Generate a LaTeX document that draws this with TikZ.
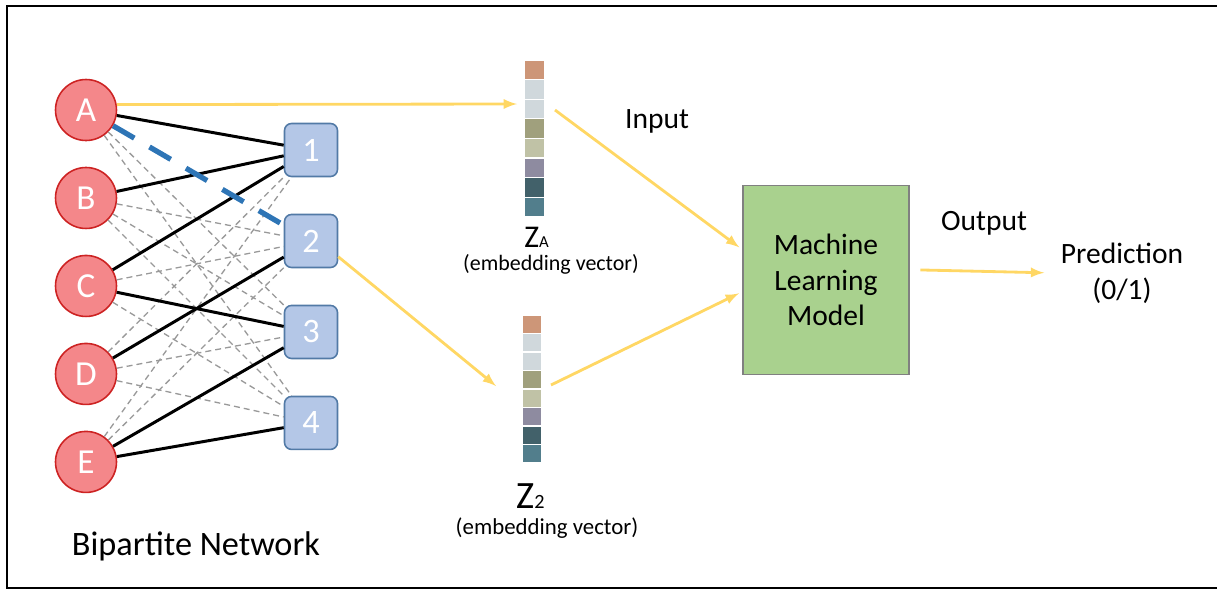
\documentclass[tikz,border=0pt]{standalone}
\usepackage{fontspec}
\setmainfont{Carlito}
\tikzset{>=latex}
\usetikzlibrary{positioning}

\definecolor{nodered}{RGB}{244,135,138}
\definecolor{borderred}{RGB}{205,35,35}
\definecolor{nodeblue}{RGB}{180,199,231}
\definecolor{borderblue}{RGB}{82,122,166}
\definecolor{linkblue}{RGB}{46,117,182}
\definecolor{arrowyellow}{RGB}{255,215,100}
\definecolor{mlgreen}{RGB}{169,209,142}
\definecolor{emba}{RGB}{205,150,120}
\definecolor{embb}{RGB}{208,216,220}
\definecolor{embc}{RGB}{160,160,125}
\definecolor{embd}{RGB}{192,194,166}
\definecolor{embe}{RGB}{142,139,160}
\definecolor{embf}{RGB}{66,97,106}
\definecolor{embg}{RGB}{82,126,140}

\tikzset{
  circnode/.style={draw=borderred, line width=0.9pt, circle, fill=nodered, minimum size=1.22cm, inner sep=0pt, text=white, font=\fontsize{20}{22}\selectfont},
  sqnode/.style={draw=borderblue, line width=0.9pt, rounded corners=4pt, fill=nodeblue, minimum size=1.06cm, inner sep=0pt, text=white, font=\fontsize{19.5}{22}\selectfont},
  edgesolid/.style={black, line width=1.7pt},
  edgegray/.style={gray!80, line width=0.75pt, dash pattern=on 3.4pt off 2.3pt},
  edgeblue/.style={linkblue, line width=3pt, dash pattern=on 14pt off 10pt},
  yarrow/.style={->, arrowyellow, line width=1.6pt},
  lbl/.style={font=\fontsize{16.8}{20.4}\selectfont},
}

\begin{document}
\begin{tikzpicture}[x=0.02cm, y=-0.02cm]
  \useasboundingbox (0,0) rectangle (1217,589);
  % frame
  \draw[line width=1.2pt] (1217,6) -- (7,6) -- (7,589);
  \draw[line width=1.2pt] (6,588) -- (1217,588);

  % bipartite network
  \node[circnode] (nA) at (86,110) {A};
  \node[circnode, below of=nA, node distance=1.76cm] (nB) {B};
  \node[circnode, below of=nB, node distance=1.76cm] (nC) {C};
  \node[circnode, below of=nC, node distance=1.76cm] (nD) {D};
  \node[circnode, below of=nD, node distance=1.76cm] (nE) {E};
  \node[sqnode] (n1) at (311,150) {1};
  \node[sqnode, below of=n1, node distance=1.82cm] (n2) {2};
  \node[sqnode, below of=n2, node distance=1.82cm] (n3) {3};
  \node[sqnode, below of=n3, node distance=1.82cm] (n4) {4};
  \foreach \u/\v in {nA/n3, nA/n4, nB/n2, nB/n3, nB/n4, nC/n2, nC/n4, nD/n1, nD/n3, nD/n4, nE/n1, nE/n2}
    \draw[edgegray] (\u) -- (\v);
  \foreach \u/\v in {nA/n1, nB/n1, nC/n1, nC/n3, nD/n2, nE/n3, nE/n4}
    \draw[edgesolid] (\u) -- (\v);
  \draw[edgeblue] (nA) -- (n2);
  \node[font=\fontsize{19.5}{22}\selectfont] (nBip) at (196,546) {Bipartite Network};

  % embedding vectors
  \foreach \c [count=\i from 0] in {emba,embb,embb,embc,embd,embe,embf,embg}
    \fill[\c] (525,{60+19.6*\i+0.6}) rectangle (544,{60+19.6*(\i+1)-0.6});
  \foreach \c [count=\i from 0] in {emba,embb,embb,embc,embd,embe,embf,embg}
    \fill[\c] (523,{315+18.5*\i+0.6}) rectangle (541,{315+18.5*(\i+1)-0.6});
  \node[font=\fontsize{18}{20}\selectfont, inner sep=0pt] (nZA) at (536.5,237) {Z{\fontsize{9.5}{10}\selectfont A}};
  \node[font=\fontsize{12.5}{14}\selectfont, inner sep=0pt] (nEmbA) at (551,264) {(embedding vector)};
  \node[font=\fontsize{22}{24}\selectfont, inner sep=0pt] (nZ2) at (530.5,496) {Z{\fontsize{11.5}{12}\selectfont 2}};
  \node[font=\fontsize{13}{15}\selectfont, inner sep=0pt] (nEmb2) at (547,528) {(embedding vector)};
  \coordinate (aux1) at (517,104);
  \coordinate (aux2) at (555,110);
  \coordinate (aux3) at (496,386);
  \coordinate (aux4) at (551,385);

  % model
  \node[draw=gray, line width=1pt, fill=mlgreen, minimum width=3.32cm, minimum height=3.78cm, align=center, lbl] (nML) at (826,280) {Machine\\Learning\\Model};
  \node[lbl, align=center] (nPred) at (1122,273) {Prediction\\(0/1)};
  \node[lbl] (nIn) at (657,121) {Input};
  \node[lbl] (nOut) at (984,223) {Output};

  \draw[yarrow] (nA.10) -- (aux1);
  \draw[yarrow, shorten >=2pt] (aux2) -- (nML.160);
  \draw[yarrow] (n2.-30) -- (aux3);
  \draw[yarrow, shorten >=2pt] (aux4) -- (nML.188);
  \draw[yarrow, shorten <=6pt, shorten >=6pt] (nML.7) -- (nPred.west);
\end{tikzpicture}
\end{document}
